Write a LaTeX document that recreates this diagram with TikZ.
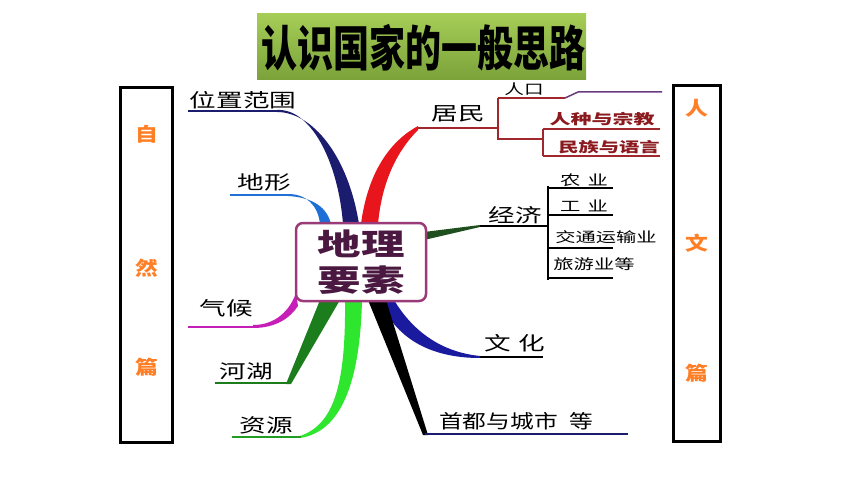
\documentclass[tikz,border=0pt]{standalone}
\usepackage{fontspec}
\usepackage{graphicx}
\newfontfamily\cjk{Noto Sans CJK SC}
\definecolor{navy}{HTML}{1C1C6E}
\definecolor{brblue}{HTML}{1E6FD6}
\definecolor{brred}{HTML}{E8161C}
\definecolor{dkred}{HTML}{A0282C}
\definecolor{txred}{HTML}{8B1A1E}
\definecolor{brmag}{HTML}{C61FB8}
\definecolor{brgreen}{HTML}{1B7D1B}
\definecolor{brlime}{HTML}{2EE62E}
\definecolor{ecgreen}{HTML}{1F4F1F}
\definecolor{culture}{HTML}{1A1A9E}
\definecolor{orng}{HTML}{FF7F27}
\definecolor{boxpurple}{HTML}{9A3A78}
\definecolor{txpurple}{HTML}{4A1840}
\definecolor{titletop}{HTML}{A5CD56}
\definecolor{titlebot}{HTML}{7BA23A}
\definecolor{popline}{HTML}{6B3A80}
\newcommand\sx[2]{\scalebox{#1}[1]{#2}}
\begin{document}
\begin{tikzpicture}[x=1pt,y=-1pt,
  lbl/.style={inner sep=0pt, font=\cjk\fontsize{19}{19}\selectfont},
  sublbl/.style={inner sep=0pt, font=\cjk\fontsize{14}{14}\selectfont},
  redlbl/.style={inner sep=0pt, text=txred, font=\cjk\bfseries\fontsize{14}{14}\selectfont},
  side/.style={inner sep=0pt, text=orng, font=\cjk\bfseries\fontsize{19}{19}\selectfont},
  sidebox/.style={draw=black, line width=3pt},
  uline/.style={line width=2pt},
]
\useasboundingbox (0,0) rectangle (860,484);
\fill[white] (0,0) rectangle (860,484);

% title
\shade[top color=titletop, bottom color=titlebot] (257,14) rectangle (586,80);
\node[inner sep=0pt, font=\cjk\bfseries\fontsize{36}{36}\selectfont] (title) at (423,48) {\scalebox{1}[1.35]{认识国家的一般思路}};

% side boxes
\draw[sidebox] (120,88) rectangle (172,442);
\node[side] (z1) at (147,134) {\sx{1.2}{自}};
\node[side] (z2) at (147,268) {\sx{1.2}{然}};
\node[side] (z3) at (147,367) {\sx{1.2}{篇}};
\draw[sidebox] (673,86) rectangle (720,441);
\node[side] (r1) at (697,108) {\sx{1.2}{人}};
\node[side] (r2) at (697,243) {\sx{1.2}{文}};
\node[side] (r3) at (697,373) {\sx{1.2}{篇}};

% tapered branches
\fill[navy] (277,110) .. controls (310,108) and (338,160) .. (343,224) -- (359,224) .. controls (348,155) and (312,112) .. (277,112) -- cycle;
\fill[brblue] (288,194) .. controls (306,194) and (318,205) .. (320,224) -- (331,224) .. controls (326,203) and (306,197) .. (288,196) -- cycle;
\fill[brred] (361,224) .. controls (368,170) and (392,140) .. (418,126) -- (418,130) .. controls (398,150) and (382,180) .. (378,224) -- cycle;
\fill[ecgreen] (424,232) -- (480,225) -- (480,227) -- (424,240) -- cycle;
\fill[culture] (380,300) .. controls (395,338) and (430,358) .. (480,358) -- (480,356) .. controls (440,352) and (412,330) .. (394,300) -- cycle;
\fill[black] (368,300) -- (386,300) -- (428,435) -- (423,435) -- cycle;
\fill[brmag] (253,325) .. controls (276,325) and (290,310) .. (296,293) -- (298,306) .. controls (290,318) and (276,328) .. (253,328) -- cycle;
\fill[brgreen] (286,384) -- (320,300) -- (340,300) -- (291,384) -- cycle;
\fill[brlime] (300,436) .. controls (332,425) and (346,390) .. (345,300) -- (362,300) .. controls (360,385) and (340,432) .. (300,438) -- cycle;

% center node
\node[draw=boxpurple, line width=2.5pt, fill=white, rounded corners=7pt, minimum width=130pt, minimum height=78pt, align=center, text=txpurple, font=\cjk\bfseries\fontsize{30}{36}\selectfont] (center) at (361,262) {\sx{1.45}{地理}\\\sx{1.45}{要素}};

% left labels and underlines
\node[lbl] (wz) at (243,100) {\sx{1.4}{位置范围}};
\draw[navy, line width=1.6pt] (188,111) -- (278,111);
\node[lbl] (dx) at (264,182) {\sx{1.4}{地形}};
\draw[brblue, uline, line width=2.5pt] (230,195) -- (290,195);
\node[lbl] (qh) at (226,308) {\sx{1.4}{气候}};
\draw[brmag, uline] (188,326.5) -- (254,326.5);
\node[lbl] (hh) at (246,371) {\sx{1.4}{河湖}};
\draw[brgreen, uline, line width=2.5pt] (215,383) -- (289,383);
\node[lbl] (zy) at (266,425) {\sx{1.4}{资源}};
\draw[brgreen!70!brlime, uline] (232,437) -- (301,437);

% residents
\node[lbl] (jm) at (458,114) {\sx{1.4}{居民}};
\coordinate (jmR) at (498,128);
\draw[dkred, uline] (418,128) -- (jmR);
\draw[dkred, uline] (498,98) -- (498,139) -- (543,139);
\draw[dkred, uline] (498,98) -- (565,98);
\draw[popline, line width=1.5pt] (565,98) -- (578,92) -- (662,92);
\node[sublbl, text=black] (rk) at (524,89) {\sx{1.4}{人口}};
\draw[dkred, uline] (543,129) -- (543,156);
\draw[dkred, uline] (543,129) -- (660,129);
\draw[dkred, uline] (543,156) -- (660,156);
\node[redlbl] (rz) at (602,119) {\sx{1.5}{人种与宗教}};
\node[redlbl] (mz) at (609,147) {\sx{1.45}{民族与语言}};

% economy
\node[lbl] (jj) at (515,215) {\sx{1.4}{经济}};
\draw[black, uline] (480,226) -- (548,226);
\draw[black, line width=2.5pt] (548,186) -- (548,280);
\draw[black, line width=2.5pt] (548,188) -- (613,188);
\draw[black, line width=2.5pt] (548,215) -- (613,215);
\draw[black, line width=2.5pt] (548,248) -- (613,248);
\draw[black, line width=2.5pt] (548,278) -- (613,278);
\node[sublbl] (ny) at (584,180) {\sx{1.45}{农\hspace{5pt}业}};
\node[sublbl] (gy) at (584,206) {\sx{1.45}{工\hspace{5pt}业}};
\node[sublbl] (jt) at (606,237) {\sx{1.45}{交通运输业}};
\node[sublbl] (ly) at (594,264) {\sx{1.45}{旅游业等}};

% culture
\node[lbl] (wh) at (515,343) {\sx{1.4}{文\hspace{5pt}化}};
\draw[black, uline] (480,357) -- (543,357);

% capital
\node[lbl] (sd) at (516,421) {\sx{1.25}{首都与城市\hspace{9pt}等}};
\draw[navy, line width=1.6pt] (425,434) -- (628,434);
\end{tikzpicture}
\end{document}
